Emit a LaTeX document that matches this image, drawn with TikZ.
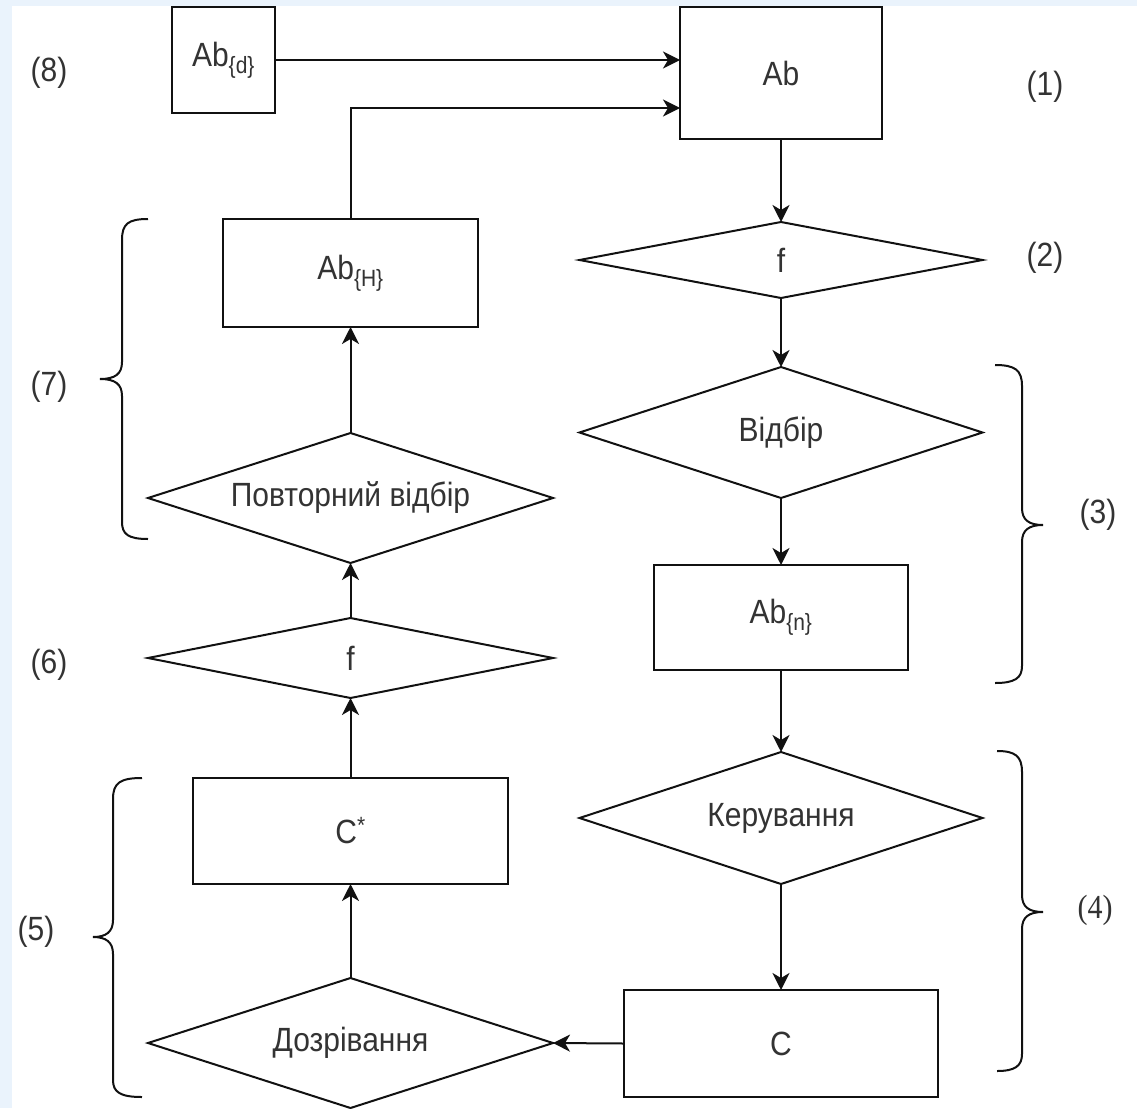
\documentclass[tikz,border=0pt]{standalone}
\usepackage{fontspec}
\usepackage{graphicx}
\setmainfont{Liberation Sans}
\newfontfamily\labserif{Liberation Serif}
\usetikzlibrary{shapes.geometric,arrows.meta,calc}
\definecolor{bgblue}{HTML}{EAF3FC}
\definecolor{ink}{HTML}{111111}
\definecolor{txt}{HTML}{333333}
\newcommand\vtall[1]{\scalebox{1}[1.12]{#1}}
\begin{document}
\begin{tikzpicture}[x=1pt,y=-1pt,
  every node/.style={text=txt,font=\fontsize{30}{36}\selectfont},
  box/.style={draw=ink,line width=2pt,rectangle,inner sep=0pt,outer sep=0pt},
  dia/.style={draw=ink,line width=2pt,diamond,inner sep=0pt,outer sep=0pt},
  arr/.style={draw=ink,line width=2pt,-{Stealth[length=17pt,width=17pt,inset=5pt]}},
  brc/.style={draw=ink,line width=2pt},
  lab/.style={inner sep=0pt}]
% background
\fill[bgblue] (0,0) rectangle (1137,1108);
\fill[white] (12,6) rectangle (1137,1108);
\useasboundingbox (0,0) rectangle (1137,1108);

% right column
\node[box,minimum width=202pt,minimum height=132pt] (ab) at (781,73) {\vtall{Ab}};
\node[dia,minimum width=403pt,minimum height=76pt,shape aspect=5.3] (f2) at (781,260) {\vtall{f}};
\node[dia,minimum width=403pt,minimum height=131pt,shape aspect=3.08] (vid) at (781,432.5) {\vtall{Відбір}};
\node[box,minimum width=254pt,minimum height=105pt] (abn) at (781,617.5) {\vtall{Ab\textsubscript{\{n\}}}};
\node[dia,minimum width=403pt,minimum height=132pt,shape aspect=3.05] (ker) at (781,818) {\vtall{Керування}};
\node[box,minimum width=314pt,minimum height=107pt] (c) at (781,1043.5) {\vtall{C}};

% left column
\node[box,minimum width=103pt,minimum height=106pt] (abd) at (223.5,60) {\vtall{Ab\textsubscript{\{d\}}}};
\node[box,minimum width=255pt,minimum height=108pt] (abh) at (350.5,273) {\vtall{Ab\textsubscript{\{H\}}}};
\node[dia,minimum width=405pt,minimum height=130pt,shape aspect=3.1] (povt) at (350.5,498) {\vtall{Повторний відбір}};
\node[dia,minimum width=405pt,minimum height=80pt,shape aspect=5.06] (f6) at (350.5,658) {\vtall{f}};
\node[box,minimum width=315pt,minimum height=106pt] (cs) at (350.5,831) {\vtall{C\textsuperscript{*}}};
\node[dia,minimum width=405pt,minimum height=130pt,shape aspect=3.1] (doz) at (350.5,1043) {\vtall{Дозрівання}};

% connectors
\draw[arr] (abd.east) -- (abd.east -| ab.west);
\draw[arr] (abh.north) |- ([yshift=-35pt]ab.west);
\draw[arr] (ab.south) -- (f2.north);
\draw[arr] (f2.south) -- (vid.north);
\draw[arr] (vid.south) -- (abn.north);
\draw[arr] (abn.south) -- (ker.north);
\draw[arr] (ker.south) -- (c.north);
\draw[arr] (c.west) -- (doz.east);
\draw[arr] (doz.north) -- (cs.south);
\draw[arr] (cs.north) -- (f6.south);
\draw[arr] (f6.north) -- (povt.south);
\draw[arr] (povt.north) -- (abh.south);

% braces
\draw[brc] (148,219) .. controls (128,219) and (122,224) .. (122,240) -- (122,362)
  .. controls (122,374) and (115,379) .. (100,379)
  .. controls (115,379) and (122,384) .. (122,396) -- (122,522)
  .. controls (122,534) and (128,539) .. (148,539);
\draw[brc] (142,778) .. controls (120,778) and (113,783) .. (113,799) -- (113,920)
  .. controls (113,932) and (106,937) .. (93,937)
  .. controls (106,937) and (113,942) .. (113,954) -- (113,1080)
  .. controls (113,1092) and (120,1097) .. (142,1097);
\draw[brc] (995,365) .. controls (1015,365) and (1022,370) .. (1022,386) -- (1022,508)
  .. controls (1022,520) and (1029,525) .. (1043,525)
  .. controls (1029,525) and (1022,530) .. (1022,542) -- (1022,666)
  .. controls (1022,678) and (1015,683) .. (995,683);
\draw[brc] (997,751) .. controls (1015,751) and (1022,756) .. (1022,772) -- (1022,895)
  .. controls (1022,907) and (1029,912) .. (1043,912)
  .. controls (1029,912) and (1022,917) .. (1022,929) -- (1022,1054)
  .. controls (1022,1066) and (1015,1071) .. (997,1071);

% labels
\node[lab] (l8) at (49,73) {\vtall{(8)}};
\node[lab] (l1) at (1045,87) {\vtall{(1)}};
\node[lab] (l2) at (1045,258) {\vtall{(2)}};
\node[lab] (l3) at (1098,515) {\vtall{(3)}};
\node[lab,font=\labserif\fontsize{30}{36}\selectfont] (l4) at (1095,910) {\vtall{(4)}};
\node[lab] (l5) at (36,932) {\vtall{(5)}};
\node[lab] (l6) at (49,665) {\vtall{(6)}};
\node[lab] (l7) at (49,387) {\vtall{(7)}};
\end{tikzpicture}
\end{document}
